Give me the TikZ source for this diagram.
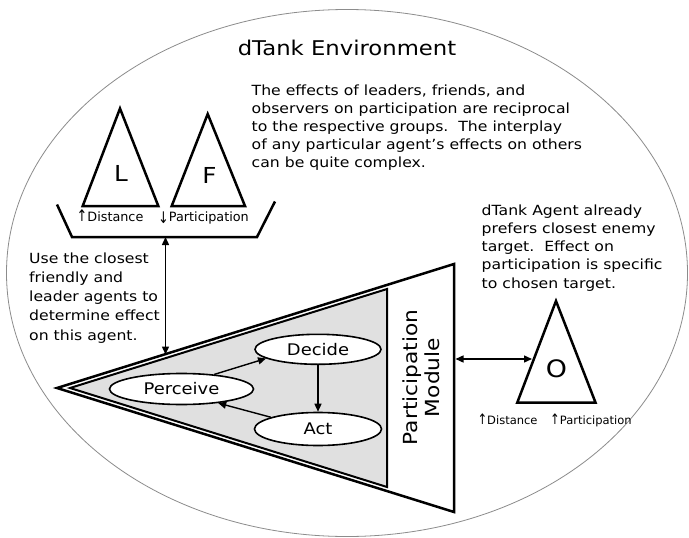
\documentclass[tikz,border=0pt]{standalone}
\usepackage{fontspec}
\setmainfont{DejaVu Sans}[FakeStretch=1.12]
\newfontfamily\plainfont{DejaVu Sans}
\newfontfamily\arrowfont{DejaVu Sans}[FakeStretch=0.8]
\usetikzlibrary{shapes.geometric,arrows.meta}
\newcommand{\upar}[1]{{\arrowfont\fontsize{#1}{#1}\selectfont ↑}}
\newcommand{\dnar}[1]{{\arrowfont\fontsize{#1}{#1}\selectfont\raisebox{-2pt}{↓}}}
\begin{document}
\begin{tikzpicture}[x=1pt,y=-1pt,
  shapeline/.style={line width=2.5pt, line join=miter},
  arr/.style={line width=1.4pt, -{Triangle[length=8pt,width=7pt]}},
  darr/.style={line width=1.4pt, {Triangle[length=8pt,width=7pt]}-{Triangle[length=8pt,width=7pt]}},
  oval/.style={ellipse, draw, line width=1.6pt, fill=white, inner sep=0pt, font=\fontsize{16}{19}\selectfont},
  body/.style={align=left, inner sep=0pt, anchor=base west},
  small/.style={inner sep=0pt, anchor=base west},
  letter/.style={inner sep=0pt, font=\fontsize{22}{26}\selectfont},
]
\useasboundingbox (0,0) rectangle (689,538);
\fill[white] (0,0) rectangle (689,538);

% environment
\node[draw=black!45, line width=0.8pt, ellipse, minimum width=681pt, minimum height=527pt, inner sep=0pt] (env) at (347,273) {};
\node[inner sep=0pt, anchor=base, font=\fontsize{20.3}{24}\selectfont] (title) at (347,55) {dTank Environment};

% (base anchor of a multi-line node = baseline of its last line)
\node[body, font=\fontsize{14}{18.1}\selectfont] (note1) at (251.5,167.4) {The effects of leaders, friends, and\\observers on participation are reciprocal\\to the respective groups.\ \ The interplay\\of any particular agent’s effects on others\\can be quite complex.};

\node[body, font=\fontsize{14}{19.2}\selectfont] (note2) at (29,340.1) {Use the closest\\friendly and\\leader agents to\\determine effect\\on this agent.};

\node[body, font=\fontsize{14}{18.3}\selectfont] (note3) at (481.5,288.2) {dTank Agent already\\prefers closest enemy\\target.\ \ Effect on\\participation is specific\\to chosen target.};

% L and F agents on a tray
\draw[shapeline] (120,108.5) coordinate (L-top) -- (158.3,206) coordinate (L-br) -- (82.7,206) coordinate (L-bl) -- cycle;
\node[letter] (L) at (121,173) {L};
\draw[shapeline] (207.7,114) coordinate (F-top) -- (245,206) coordinate (F-br) -- (171.7,206) coordinate (F-bl) -- cycle;
\node[letter] (F) at (209.5,175) {F};
\draw[shapeline] (57,204.5) coordinate (tray-tl) -- (72,237) coordinate (tray-bl) -- (257,237) coordinate (tray-br) -- (275,201.5) coordinate (tray-tr);
\node[small, font=\plainfont\fontsize{12.8}{15}\selectfont] (lfdist) at (76.5,221.7) {\upar{16}Distance};
\node[small, font=\plainfont\fontsize{12.8}{15}\selectfont] (lfpart) at (158,221.7) {\dnar{16}Participation};

% agent
\draw[shapeline, fill=white] (57,388) coordinate (ag-apex) -- (454,264) coordinate (ag-tr) -- (454,512) coordinate (ag-br) -- cycle;
\draw[line width=2pt, line join=miter, fill=black!12] (70,388) coordinate (in-apex) -- (387,289) coordinate (in-tr) -- (387,487) coordinate (in-br) -- cycle;
\node[rotate=90, align=center, inner sep=0pt, font=\fontsize{19.4}{21.5}\selectfont] (pm) at (421.5,377.5) {Participation\\Module};

\node[oval, minimum width=126pt, minimum height=30pt] (decide) at (318,349.3) {Decide};
\node[oval, minimum width=144pt, minimum height=31pt] (perceive) at (181.5,389) {Perceive};
\node[oval, minimum width=127pt, minimum height=33pt] (act) at (318,429) {Act};

\draw[arr] (perceive.24) -- (decide.190);
\draw[arr] (decide) -- (act);
\draw[arr] (act.166) -- (perceive.-21);

% observer
\draw[shapeline] (556,301) coordinate (O-top) -- (595.5,402.5) coordinate (O-br) -- (517.3,402.5) coordinate (O-bl) -- cycle;
\node[inner sep=0pt, font=\fontsize{24}{28}\selectfont] (O) at (556.5,369) {O};
\node[small, font=\plainfont\fontsize{11.5}{14}\selectfont] (odist) at (477.3,424.3) {\upar{14.5}Distance};
\node[small, font=\plainfont\fontsize{11.5}{14}\selectfont] (opart) at (550,424.3) {\upar{14.5}Participation};

% connectors
\coordinate (traybot) at (165.5,237);
\coordinate (agtop) at (165.5,354.5);
\draw[darr] (traybot) -- (agtop);
\coordinate (pmright) at (455.5,359);
\coordinate (oleft) at (532,359);
\draw[darr] (pmright) -- (oleft);
\end{tikzpicture}
\end{document}
